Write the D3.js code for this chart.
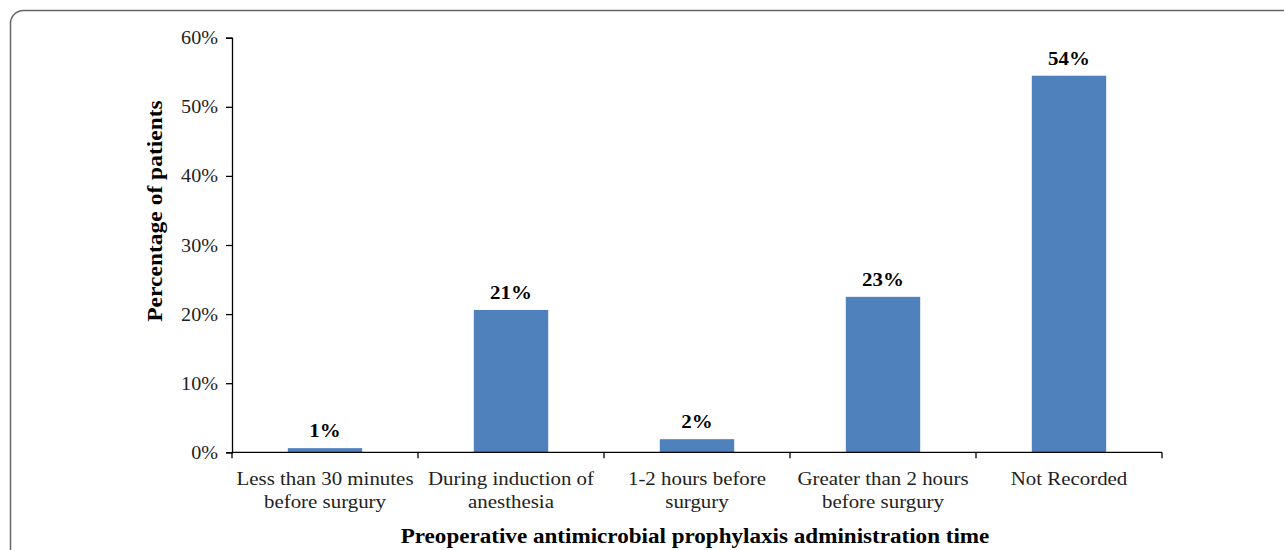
<!DOCTYPE html>
<html>
<head>
<meta charset="utf-8">
<script src="https://cdn.jsdelivr.net/npm/d3@7"></script>
<style>
  html, body { margin: 0; padding: 0; background: #fff; }
  svg { display: block; }
</style>
</head>
<body>
<svg id="chart" width="1284" height="550"></svg>
<script>
const categories = [
  ["Less than 30 minutes", "before surgury"],
  ["During induction of", "anesthesia"],
  ["1-2 hours before", "surgury"],
  ["Greater than 2 hours", "before surgury"],
  ["Not Recorded"]
];
const values = [0.6, 20.6, 1.9, 22.5, 54.5];
const valueLabels = ["1%", "21%", "2%", "23%", "54%"];
const yTicks = [0, 10, 20, 30, 40, 50, 60];
const yTitle = "Percentage of patients";
const xTitle = "Preoperative antimicrobial prophylaxis administration time";

(function () {
const svg = d3.select("#chart");
const font = "'Liberation Serif', 'Times New Roman', serif";

svg.append("rect")
  .attr("x", 10.5).attr("y", 10.5)
  .attr("width", 1300).attr("height", 600)
  .attr("rx", 13).attr("ry", 13)
  .attr("fill", "none").attr("stroke", "#666").attr("stroke-width", 1.5);

const pLeft = 232, pRight = 1162, pTop = 37.7, pBottom = 452.3;

const x = d3.scaleBand()
  .domain(d3.range(categories.length))
  .range([pLeft, pRight])
  .paddingInner(0.6).paddingOuter(0.3);

const y = d3.scaleLinear().domain([0, 60]).range([pBottom, pTop]);

svg.append("g").selectAll("rect").data(values).join("rect")
  .attr("x", (d, i) => x(i))
  .attr("y", d => y(d))
  .attr("width", x.bandwidth())
  .attr("height", d => y(0) - y(d))
  .attr("fill", "#4F81BD");

svg.append("g").selectAll("text").data(values).join("text")
  .attr("transform", (d, i) => `translate(${x(i) + x.bandwidth() / 2},${y(d) - 11}) scale(1.1,1)`)
  .attr("text-anchor", "middle")
  .attr("font-family", font)
  .attr("font-weight", "bold")
  .attr("font-size", 19)
  .attr("fill", "#000")
  .text((d, i) => valueLabels[i]);

const yAxis = svg.append("g")
  .attr("transform", `translate(${pLeft},0)`)
  .call(d3.axisLeft(y).tickValues(yTicks).tickFormat(d => d + "%").tickSize(6).tickPadding(8));
yAxis.select(".domain").attr("stroke", "#000").attr("stroke-width", 1.3);
yAxis.selectAll(".tick line").attr("stroke", "#000").attr("stroke-width", 1.3);
yAxis.selectAll(".tick text")
  .attr("x", 0)
  .attr("transform", "translate(-14,0) scale(1.06,1)")
  .attr("font-family", font).attr("font-size", 19).attr("fill", "#222");

const boundaries = d3.range(categories.length + 1).map(i => pLeft + i * (pRight - pLeft) / categories.length);
svg.append("line")
  .attr("x1", pLeft).attr("x2", pRight)
  .attr("y1", y(0)).attr("y2", y(0))
  .attr("stroke", "#000").attr("stroke-width", 1.3);
svg.append("g").selectAll("line").data(boundaries).join("line")
  .attr("x1", d => d).attr("x2", d => d)
  .attr("y1", y(0)).attr("y2", y(0) + 6)
  .attr("stroke", "#000").attr("stroke-width", 1.3);

const catG = svg.append("g").selectAll("text").data(categories).join("text")
  .attr("transform", (d, i) => `translate(${x(i) + x.bandwidth() / 2},485) scale(1.1,1)`)
  .attr("text-anchor", "middle")
  .attr("font-family", font)
  .attr("font-size", 19)
  .attr("fill", "#222");
catG.each(function(d) {
  const t = d3.select(this);
  d.forEach((line, j) => {
    t.append("tspan")
      .attr("x", 0)
      .attr("dy", j === 0 ? 0 : 23)
      .text(line);
  });
});

svg.append("text")
  .attr("transform", `translate(162,211) rotate(-90) scale(1.12,1)`)
  .attr("text-anchor", "middle")
  .attr("font-family", font)
  .attr("font-weight", "bold")
  .attr("font-size", 21)
  .attr("fill", "#000")
  .text(yTitle);

svg.append("text")
  .attr("transform", `translate(${(pLeft + pRight) / 2 - 2},543) scale(1.1,1)`)
  .attr("text-anchor", "middle")
  .attr("font-family", font)
  .attr("font-weight", "bold")
  .attr("font-size", 21)
  .attr("fill", "#000")
  .text(xTitle);
})();
</script>
</body>
</html>
